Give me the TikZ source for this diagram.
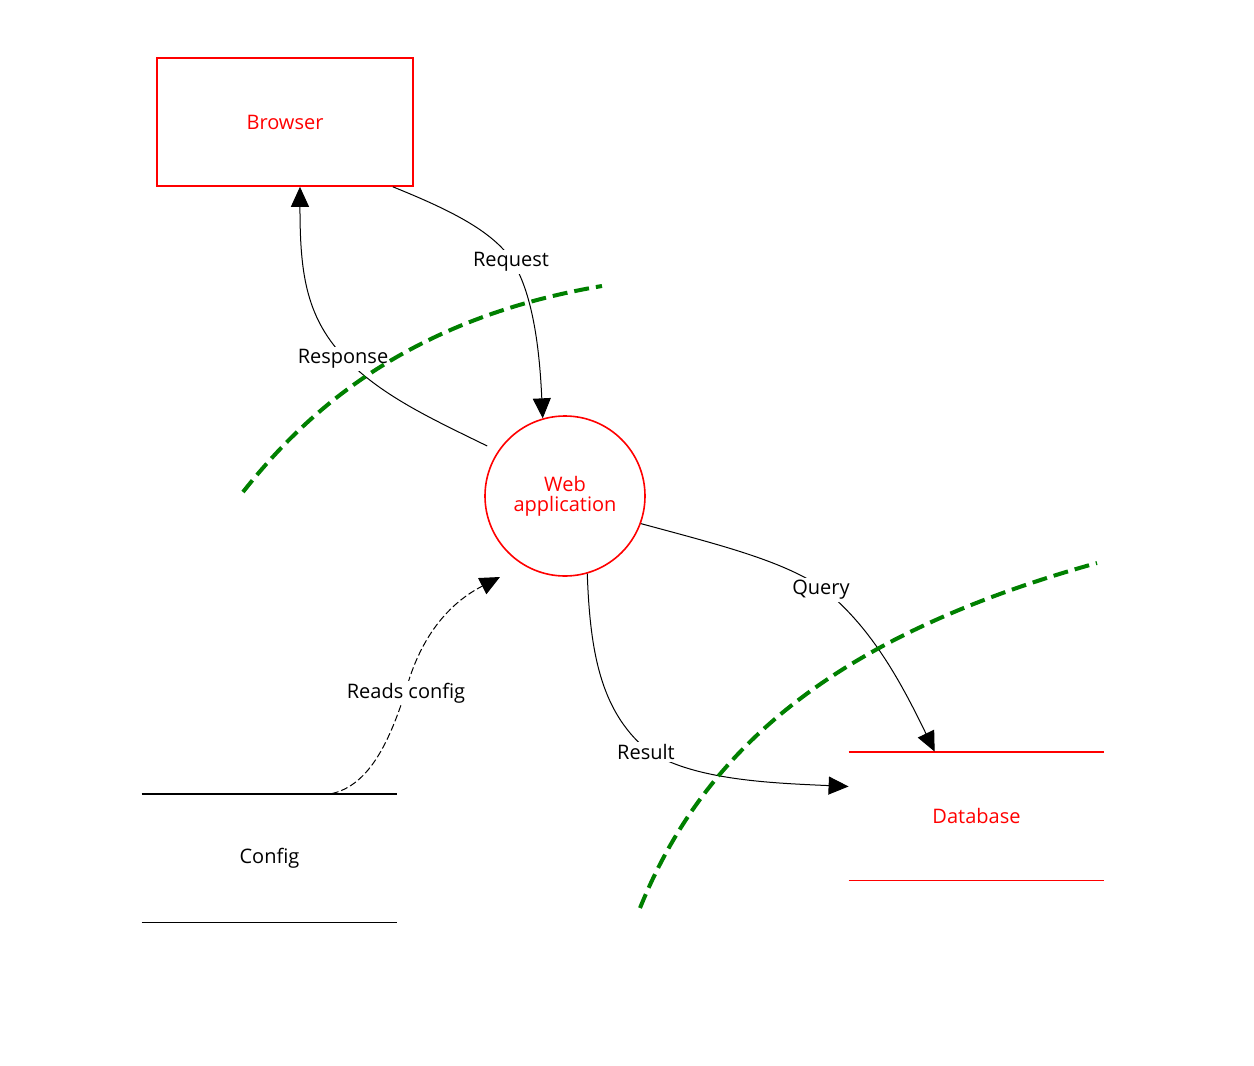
\documentclass[tikz,border=0pt]{standalone}
\usepackage{fontspec}
\setmainfont{Open Sans}
\usetikzlibrary{arrows.meta}
\definecolor{tmred}{RGB}{255,0,0}
\definecolor{tmgreen}{RGB}{0,128,0}
\newcommand{\dfdfont}{\fontsize{10}{10}\selectfont}
\tikzset{
  actor/.style={rectangle, draw=tmred, text=tmred, minimum width=128pt,
    minimum height=64pt, line width=0.8pt, font=\dfdfont},
  process/.style={circle, draw=tmred, text=tmred, minimum size=80pt,
    inner sep=0pt, align=center, line width=0.8pt, font=\dfdfont},
  store/.style={rectangle, minimum width=127.5pt, minimum height=64pt,
    font=\dfdfont},
  storeline/.style={line width=0.9pt},
  flowlabel/.style={fill=white, inner sep=1pt, yshift=-1.5pt, font=\dfdfont},
  flow/.style={-{Triangle[length=10pt, width=9pt]}, line width=0.5pt, color=black},
  boundary/.style={draw=tmgreen, line width=2pt, dash pattern=on 7.5pt off 3.5pt}
}

\begin{document}
\begin{tikzpicture}[x=0.5pt, y=-0.5pt]
  \useasboundingbox (0,0) rectangle (1254,1066);

  % Elements
  \node[actor] (browser) at (285,122) {Browser};
  \node[process] (webapp) at (565,496) {Web\\application};
  \node[store] (config) at (269.5,858) {Config};
  \node[store, text=tmred] (database) at (976.5,816) {Database};
  \draw[storeline] (config.north west) -- (config.north east);
  \draw[storeline] (config.south west) -- (config.south east);
  \draw[storeline, draw=tmred] (database.north west) -- (database.north east);
  \draw[storeline, draw=tmred] (database.south west) -- (database.south east);
  \coordinate (cfgin) at (500,577);

  % Dataflows
  \draw[flow] (browser.-31) .. controls (440,206) and (490,228) .. (511,259)
    node[flowlabel] (request) {Request}
    .. controls (535,295) and (540,360) .. (webapp.106);
  \draw[flow] ([shift={(-5pt,3pt)}]webapp.147) .. controls (430,418) and (380,395) .. (343,356)
    node[flowlabel] (response) {Response}
    .. controls (305,315) and (300,270) .. (browser.-77);
  \draw[flow] (webapp.-20) .. controls (720,545) and (780,560) .. (821,587)
    node[flowlabel] (query) {Query}
    .. controls (870,625) and (900,680) .. (database.123);
  \draw[flow] (webapp.-74) .. controls (590,650) and (600,710) .. (646,749)
    node[flowlabel] (result) {Result}
    .. controls (690,780) and (770,783) .. (database.167.5);
  \draw[flow, dash pattern=on 3.5pt off 1.5pt] (config.46.6)
    .. controls (370,785) and (390,740) .. (406,690)
    node[flowlabel] (reads) {Reads config}
    .. controls (425,620) and (465,595) .. (cfgin);

  % Trust boundaries
  \draw[boundary] (243,492) .. controls (300,420) and (400,320) .. (602,286);
  \draw[boundary] (640,908) .. controls (700,760) and (820,640) .. (1097,563);
\end{tikzpicture}
\end{document}
